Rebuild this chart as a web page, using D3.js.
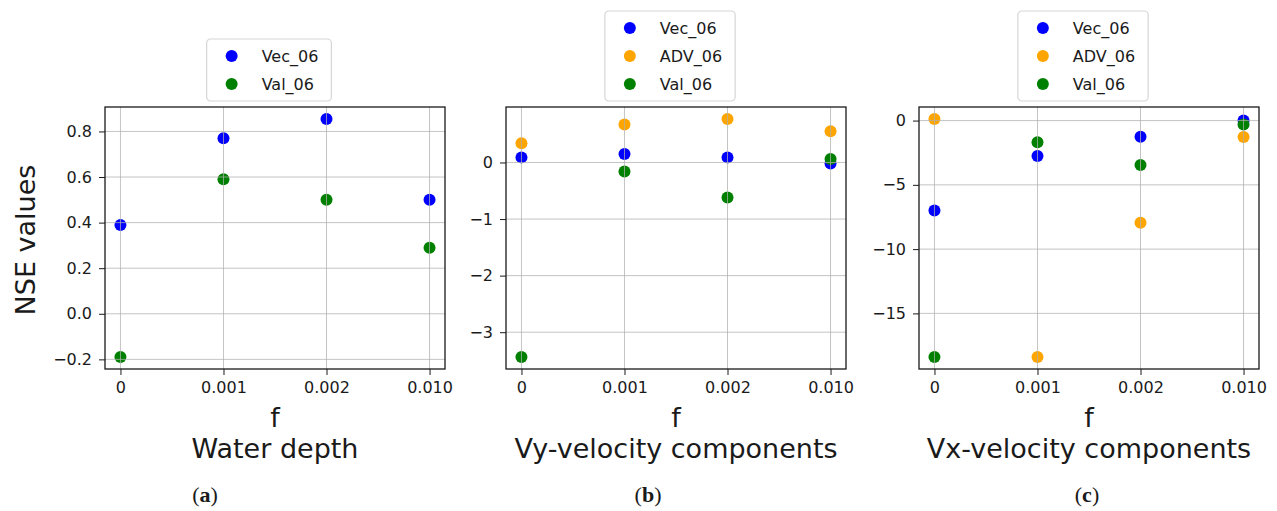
<!DOCTYPE html>
<html>
<head>
<meta charset="utf-8">
<script src="https://cdn.jsdelivr.net/npm/d3@7"></script>
<style>
  body { margin: 0; background: #fff; }
  svg text { font-family: "DejaVu Sans", sans-serif; fill: #1a1a1a; }
</style>
</head>
<body>
<div id="chart"></div>
<script>
// data
const categories = ['0', '0.001', '0.002', '0.010'];

const depthVec = [0.39, 0.77, 0.855, 0.50];
const depthVal = [-0.19, 0.59, 0.50, 0.29];

const vyVec = [0.09, 0.15, 0.09, -0.02];
const vyAdv = [0.34, 0.67, 0.77, 0.55];
const vyVal = [-3.44, -0.16, -0.62, 0.06];

const vxVec = [-7.0, -2.75, -1.25, 0.0];
const vxAdv = [0.13, -18.4, -7.95, -1.28];
const vxVal = [-18.4, -1.68, -3.45, -0.30];

const depthTicks = [-0.2, 0.0, 0.2, 0.4, 0.6, 0.8];
const vyTicks = [-3, -2, -1, 0];
const vxTicks = [-15, -10, -5, 0];

const panelTitles = ['Water depth', 'Vy-velocity components', 'Vx-velocity components'];
const panelCaptions = ['a', 'b', 'c'];

// colours per series name
const colors = {Vec_06: 'blue', ADV_06: 'orange', Val_06: 'green'};

// building panel list
const panels = [
    {series: [['Vec_06', depthVec], ['Val_06', depthVal]], ticks: depthTicks, fmt: d3.format('.1f')},
    {series: [['Vec_06', vyVec], ['ADV_06', vyAdv], ['Val_06', vyVal]], ticks: vyTicks, fmt: d3.format('d')},
    {series: [['Vec_06', vxVec], ['ADV_06', vxAdv], ['Val_06', vxVal]], ticks: vxTicks, fmt: d3.format('d')}
];

// layout
const width = 1277, height = 511;
const plotLefts = [105, 506, 919];
const captionXs = [205, 648, 1087];
const plotTop = 107;
const w = 340, h = 262;

const svg = d3.select('#chart').append('svg')
    .attr('width', width)
    .attr('height', height);

// y label only on first panel
svg.append('text')
    .attr('transform', `translate(35,${plotTop + h / 2 + 2}) rotate(-90)`)
    .attr('text-anchor', 'middle')
    .style('font-size', '27px')
    .text('NSE values');

panels.forEach((p, i) => {
    const plot = svg.append('g')
        .attr('transform', `translate(${plotLefts[i]},${plotTop})`);

    // setting up scales (matplotlib style 5% margins)
    const all = p.series.flatMap(s => s[1]);
    const [lo, hi] = d3.extent(all);
    const pad = (hi - lo) * 0.05;

    const x = d3.scalePoint()
        .domain(categories)
        .range([0, w])
        .padding(0.15);
    const y = d3.scaleLinear()
        .domain([lo - pad, hi + pad])
        .range([h, 0]);

    // markers
    p.series.forEach(([name, vals]) => {
        plot.append('g').selectAll('circle')
            .data(vals)
            .enter()
            .append('circle')
            .attr('cx', (d, j) => x(categories[j]))
            .attr('cy', d => y(d))
            .attr('r', 6)
            .attr('fill', colors[name]);
    });

    // grid, drawn above the markers like matplotlib
    const grid = plot.append('g')
        .attr('stroke', '#b0b0b0')
        .attr('stroke-opacity', 0.75)
        .attr('stroke-width', 1);
    grid.selectAll('.gx')
        .data(categories)
        .enter()
        .append('line')
        .attr('x1', d => x(d)).attr('x2', d => x(d))
        .attr('y1', 0).attr('y2', h);
    grid.selectAll('.gy')
        .data(p.ticks)
        .enter()
        .append('line')
        .attr('x1', 0).attr('x2', w)
        .attr('y1', d => y(d)).attr('y2', d => y(d));

    // axes
    const xAxis = plot.append('g')
        .attr('transform', `translate(0,${h})`)
        .call(d3.axisBottom(x).tickSize(6).tickPadding(7));
    const yAxis = plot.append('g')
        .call(d3.axisLeft(y).tickValues(p.ticks).tickFormat(p.fmt).tickSize(6).tickPadding(7));
    [xAxis, yAxis].forEach(a => {
        a.select('.domain').remove();
        a.selectAll('line').attr('stroke', '#1a1a1a');
        a.selectAll('text')
            .style('font-size', '16px')
            .style('font-family', '"DejaVu Sans", sans-serif')
            .attr('fill', '#1a1a1a');
    });

    // frame
    plot.append('rect')
        .attr('width', w)
        .attr('height', h)
        .attr('fill', 'none')
        .attr('stroke', '#1a1a1a')
        .attr('stroke-width', 1.3);

    // x labels
    plot.append('text')
        .attr('x', w / 2)
        .attr('y', 320)
        .attr('text-anchor', 'middle')
        .style('font-size', '27px')
        .text('f');
    plot.append('text')
        .attr('x', w / 2)
        .attr('y', 351)
        .attr('text-anchor', 'middle')
        .style('font-size', '27px')
        .text(panelTitles[i]);

    // legend, upper centre above the plot
    const rowH = 28;
    const n = p.series.length;
    const boxH = 34 + (n - 1) * rowH;
    const legend = plot.append('g');
    const box = legend.append('rect')
        .attr('rx', 4)
        .attr('fill', '#fff')
        .attr('fill-opacity', 0.8)
        .attr('stroke', '#d6d6d6')
        .attr('stroke-width', 1.2);
    let maxLen = 0;
    p.series.forEach(([name], k) => {
        const cy = 17 + k * rowH;
        legend.append('circle')
            .attr('cx', 25)
            .attr('cy', cy)
            .attr('r', 6)
            .attr('fill', colors[name]);
        const t = legend.append('text')
            .attr('x', 55)
            .attr('y', cy)
            .attr('dy', '0.35em')
            .style('font-size', '16px')
            .text(name);
        maxLen = Math.max(maxLen, t.node().getComputedTextLength());
    });
    const boxW = 55 + maxLen + 13;
    box.attr('width', boxW).attr('height', boxH);
    legend.attr('transform', `translate(${w / 2 - 6 - boxW / 2},${-6 - boxH})`);

    // sub-figure caption
    const cap = svg.append('text')
        .attr('x', captionXs[i])
        .attr('y', 502)
        .attr('text-anchor', 'middle')
        .style('font-family', '"Liberation Serif", "DejaVu Serif", serif')
        .style('font-size', '22px');
    cap.append('tspan').text('(');
    cap.append('tspan').style('font-weight', 'bold').text(panelCaptions[i]);
    cap.append('tspan').text(')');
});
</script>
</body>
</html>
